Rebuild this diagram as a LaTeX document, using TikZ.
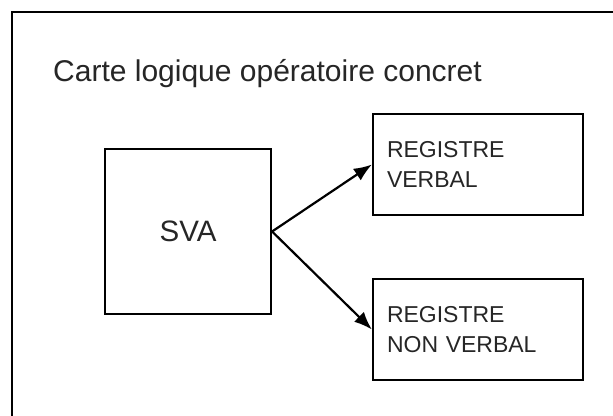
\documentclass[tikz,border=0pt]{standalone}
\usepackage{fontspec}
\setmainfont{Liberation Sans}
\usetikzlibrary{arrows.meta}
\begin{document}
\begin{tikzpicture}[x=1pt,y=-1pt,
  frame/.style={line width=2.2pt,black},
  block/.style={draw,line width=2.2pt,black,rectangle,inner sep=0pt},
  regbox/.style={block,minimum width=210pt,minimum height=101pt,
    text width=182pt,align=left,
    font=\fontsize{23}{29.5}\selectfont,text=black!85},
  link/.style={line width=2.2pt,-{Latex[length=18pt,width=14pt]}}]
  \useasboundingbox (0,0) rectangle (613,415);
  \clip (0,0) rectangle (613,415);
  \fill[white] (0,0) rectangle (613,415);
  % open outer frame
  \draw[frame] (12,430) -- (12,12) -- (630,12);
  % title
  \node[anchor=base west,inner sep=0pt,text=black!85,
    font=\fontsize{30}{36}\selectfont] (title) at (53,81)
    {Carte logique opératoire concret};
  % blocks
  \node[block,minimum width=166pt,minimum height=165pt,
    font=\fontsize{29.5}{36}\selectfont,text=black!85] (sva) at (188,231.5) {SVA};
  \node[regbox] (verbal) at (478,164.5) {REGISTRE\\VERBAL};
  \node[regbox] (nonverbal) at (478,329.5) {REGISTRE\\NON VERBAL};
  % connectors
  \draw[link] (sva.east) -- (verbal.west);
  \draw[link] (sva.east) -- (nonverbal.west);
\end{tikzpicture}
\end{document}
